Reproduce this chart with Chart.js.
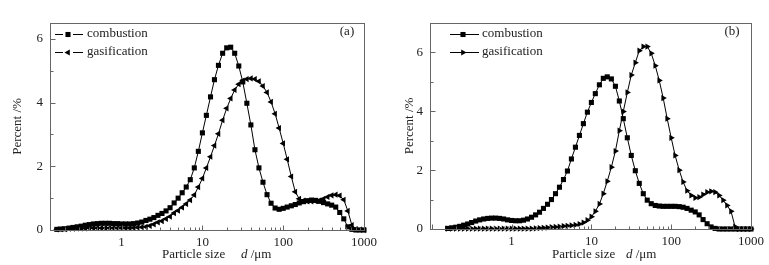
<!DOCTYPE html>
<html>
<head>
<meta charset="utf-8">
<script src="https://cdn.jsdelivr.net/npm/chart.js@4.4.1/dist/chart.umd.min.js"></script>
<style>
body{margin:0;background:#fff;width:769px;height:265px;overflow:hidden;position:relative;font-family:"Liberation Serif",serif;color:#222}
.panel{position:absolute;top:0;width:384px;height:265px}
.panel canvas{position:absolute;left:0;top:0}
.xt{position:absolute;top:246px;font-size:13px;line-height:15px;white-space:nowrap}
</style>
</head>
<body>
<div class="panel" style="left:0"><canvas id="ca" width="384" height="265"></canvas></div>
<div class="panel" style="left:385px"><canvas id="cb" width="384" height="265"></canvas></div>
<div class="xt" style="left:162px">Particle size</div>
<div class="xt" style="left:241px"><i>d</i> /μm</div>
<div class="xt" style="left:552px">Particle size</div>
<div class="xt" style="left:626px"><i>d</i> /μm</div>
<script>
const FONT = '"Liberation Serif", "Times New Roman", serif';

// particle size classes, um
const sizes = [0.158,0.178,0.2,0.224,0.251,0.282,0.316,0.355,0.398,0.447,
  0.501,0.562,0.631,0.708,0.794,0.891,1.0,1.12,1.26,1.41,
  1.58,1.78,2.0,2.24,2.51,2.82,3.16,3.55,3.98,4.47,
  5.01,5.62,6.31,7.08,7.94,8.91,10,11.2,12.6,14.1,
  15.8,17.8,20,22.4,25.1,28.2,31.6,35.5,39.8,44.7,
  50.1,56.2,63.1,70.8,79.4,89.1,100,112,126,141,
  158,178,200,224,251,282,316,355,398,447,
  501,562,631,708,794,891,1000];

// panel (a)
const combA = [0.02,0.03,0.04,0.06,0.08,0.1,0.12,0.15,0.17,0.19,
  0.2,0.21,0.21,0.21,0.2,0.2,0.19,0.19,0.19,0.2,
  0.22,0.25,0.3,0.34,0.39,0.46,0.52,0.6,0.7,0.85,
  1.0,1.17,1.35,1.58,1.95,2.47,3.05,3.6,4.18,4.72,
  5.17,5.55,5.72,5.74,5.55,5.15,4.65,3.98,3.3,2.52,
  1.95,1.5,1.11,0.84,0.69,0.65,0.68,0.72,0.76,0.8,
  0.85,0.89,0.92,0.94,0.93,0.9,0.86,0.82,0.78,0.72,
  0.55,0.35,0.1,0.02,0,0,0];
const gasA = [0.02,0.03,0.03,0.04,0.04,0.05,0.05,0.05,0.06,0.06,
  0.06,0.06,0.06,0.06,0.06,0.06,0.06,0.06,0.06,0.07,
  0.08,0.09,0.1,0.13,0.18,0.24,0.28,0.35,0.42,0.53,
  0.61,0.71,0.82,0.94,1.1,1.35,1.62,1.95,2.3,2.65,
  3.02,3.45,3.82,4.13,4.4,4.58,4.69,4.74,4.76,4.74,
  4.67,4.52,4.32,4.02,3.65,3.2,2.72,2.22,1.68,1.2,
  0.98,0.92,0.9,0.9,0.91,0.93,0.98,1.04,1.09,1.11,
  1.08,0.95,0.6,0.15,0.03,0.01,0];

// panel (b)
const combB = [0.02,0.04,0.06,0.09,0.13,0.17,0.22,0.27,0.31,0.34,
  0.36,0.37,0.37,0.36,0.34,0.31,0.29,0.28,0.28,0.3,
  0.34,0.4,0.48,0.57,0.7,0.84,1.0,1.2,1.42,1.68,
  1.97,2.38,2.78,3.18,3.58,3.97,4.3,4.6,4.9,5.12,
  5.17,5.1,4.85,4.35,3.75,3.1,2.5,1.98,1.55,1.2,
  0.98,0.86,0.8,0.78,0.77,0.77,0.77,0.77,0.76,0.74,
  0.7,0.64,0.58,0.48,0.32,0.18,0.07,0.02,0,0,
  0,0,0,0,0,0,0];
const gasB = [0.01,0.01,0.01,0.01,0.01,0.01,0.01,0.01,0.01,0.01,
  0.01,0.01,0.01,0.01,0.01,0.01,0.01,0.01,0.01,0.01,
  0.01,0.01,0.02,0.03,0.04,0.05,0.06,0.07,0.08,0.1,
  0.11,0.12,0.14,0.17,0.22,0.3,0.42,0.6,0.85,1.2,
  1.62,2.1,2.65,3.34,3.99,4.64,5.23,5.65,6.06,6.2,
  6.2,5.97,5.55,5.05,4.45,3.75,3.1,2.5,2.0,1.6,
  1.3,1.14,1.06,1.08,1.17,1.25,1.28,1.25,1.14,0.98,
  0.8,0.6,0.08,0,0,0,0];

const xMajor = [1,10,100,1000];
const yMajor = [0,2,4,6];
const seriesNames = ['combustion','gasification'];

function marker(ctx, style, rot, x, y, r){
  ctx.beginPath();
  if(style==='rect'){
    const s = r*Math.SQRT1_2;
    ctx.rect(x-s,y-s,2*s,2*s);
  } else {
    const a0 = (rot-90)*Math.PI/180;
    for(let k=0;k<3;k++){
      const a = a0 + k*2*Math.PI/3;
      const px = x+Math.cos(a)*r, py = y+Math.sin(a)*r;
      k? ctx.lineTo(px,py) : ctx.moveTo(px,py);
    }
    ctx.closePath();
  }
  ctx.fill();
}

const frame = {
  id:'frame',
  afterDraw(chart, args, o){
    const {ctx, chartArea:a, scales:{x,y}} = chart;
    ctx.save();
    ctx.strokeStyle = '#666'; ctx.lineWidth = 1;
    const L = Math.round(a.left)+0.5, T = Math.round(a.top)+0.5, R = Math.round(a.right)+0.5, B = Math.round(a.bottom)+0.5;
    ctx.strokeRect(L,T,R-L,B-T);
    ctx.beginPath();
    [0.1,1,10,100,1000].forEach(d=>{
      for(let k=1;k<10;k++){
        const v = d*k;
        if(v<x.min || v>x.max*1.0001) continue;
        const px = Math.round(x.getPixelForValue(v))+0.5;
        const len = k===1?5:3;
        ctx.moveTo(px,B); ctx.lineTo(px,B-len);
      }
    });
    for(let v=0; v<=y.max; v++){
      const py = Math.round(y.getPixelForValue(v))+0.5;
      ctx.moveTo(L,py); ctx.lineTo(L+(v%2===0?5:3),py);
    }
    ctx.stroke();

    // legend
    ctx.font = '13px '+FONT; ctx.fillStyle = '#222'; ctx.textBaseline = 'middle';
    chart.data.datasets.forEach((ds,i)=>{
      const yy = o.rows[i];
      ctx.strokeStyle = '#000';
      ctx.beginPath();
      if(o.gap){
        ctx.moveTo(o.x0,yy+0.5); ctx.lineTo(o.mx-5,yy+0.5);
        ctx.moveTo(o.mx+5,yy+0.5); ctx.lineTo(o.x1,yy+0.5);
      } else {
        ctx.moveTo(o.x0,yy+0.5); ctx.lineTo(o.x1,yy+0.5);
      }
      ctx.stroke();
      ctx.fillStyle = '#000';
      marker(ctx, ds.pointStyle, ds.pointRotation||0, o.mx, yy+0.5, 3.6);
      ctx.fillStyle = '#222';
      ctx.fillText(ds.label, o.tx, yy);
    });
    ctx.textAlign = 'center';
    ctx.fillText(o.tag, 347, 32);
    ctx.restore();
  }
};

function panelChart(id, comb, gas, cfg){
  const series = [comb, gas];
  const datasets = series.map((vals,i)=>({
    label: seriesNames[i],
    data: sizes.map((s,j)=>({x:s, y:vals[j]})),
    borderColor:'#000', backgroundColor:'#000', borderWidth:1,
    pointStyle: i===0 ? 'rect' : 'triangle',
    pointRotation: i===0 ? 0 : cfg.triRot,
    pointRadius: 3.6, pointHoverRadius: 3.6, pointBorderWidth: 0,
    tension: 0, clip: false
  }));
  return new Chart(document.getElementById(id), {
    type:'line',
    data:{datasets},
    options:{
      responsive:false, animation:false, events:[],
      layout:{padding:{top:23, right:cfg.right, left:0, bottom:0}},
      plugins:{
        legend:{display:false}, tooltip:{enabled:false},
        frame:{rows:[34,52], gap:cfg.gap, x0:cfg.lx0, x1:cfg.lx1, mx:cfg.lmx, tx:cfg.ltx, tag:cfg.tag}
      },
      scales:{
        x:{
          type:'logarithmic', min:cfg.xmin, max:1000,
          grid:{display:false, drawTicks:false}, border:{display:false},
          afterBuildTicks: s => { s.ticks = xMajor.map(v=>({value:v})); },
          afterFit: s => { s.height = cfg.xh; },
          ticks:{padding:5, color:'#222', font:{family:FONT, size:13}, maxRotation:0, autoSkip:false, callback: v => String(v)}
        },
        y:{
          min:0, max:cfg.ymax,
          grid:{display:false, drawTicks:false}, border:{display:false},
          afterBuildTicks: s => { s.ticks = yMajor.map(v=>({value:v})); },
          afterFit: s => { s.width = cfg.yw; },
          ticks:{padding:7, color:'#222', font:{family:FONT, size:13}},
          title:{display:true, text:'Percent /%', color:'#222', font:{family:FONT, size:13}, padding:{top:cfg.tpad, bottom:0}}
        }
      }
    },
    plugins:[frame]
  });
}

panelChart('ca', combA, gasA, {xmin:0.13, ymax:6.5, yw:50, xh:35, right:20, tpad:10, triRot:270,
  gap:true, lx0:55, lx1:83, lmx:68, ltx:87, tag:'(a)'});
panelChart('cb', combB, gasB, {xmin:0.095, ymax:7, yw:45, xh:36, right:17, tpad:17, triRot:90,
  gap:false, lx0:65, lx1:94, lmx:78, ltx:97, tag:'(b)'});
</script>
</body>
</html>
